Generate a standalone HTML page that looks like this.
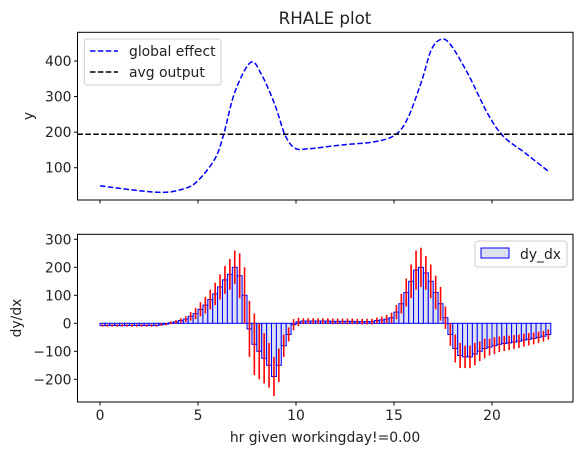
<!DOCTYPE html>
<html><head><meta charset="utf-8"><style>
body{margin:0;background:#fff}
svg text{font-family:"DejaVu Sans","Liberation Sans",sans-serif;fill:#222}
</style></head><body>
<svg id="c" width="583" height="455" xmlns="http://www.w3.org/2000/svg">
<rect width="583" height="455" fill="#fff"/>
<text x="325" y="24" font-size="16.7" text-anchor="middle">RHALE plot</text>
<g id="topG"></g><g id="botG"></g>
</svg>
<script>
const curveX=[0,2.98,4.34,5.02,5.87,6.3,6.89,7.69,8.25,8.93,9.44,9.95,10.6,12.3,14.0,15.05,15.7,16.4,16.9,17.4,17.9,18.8,19.8,20.6,21.7,22.9];
const curveY=[49,31,42,65,126,192,314,396,361,276,192,155,153,164,173,192,239,342,431,461,445,361,250,187,141,89];
const avgOutput=194;
const topTicks=[100,200,300,400];
const botTicks=[-200,-100,0,100,200,300];
const xTicks=[0,5,10,15,20];
const binStart=0,binWidth=0.25;
const dydx=[-8,-8,-8,-8,-8,-8,-8,-8,-8,-8,-8,-8,-5,-3,2,5,10,15,25,35,50,65,85,105,130,155,175,200,170,100,-20,-75,-100,-125,-150,-190,-150,-80,-40,-5,5,8,8,8,8,8,8,7,7,7,7,7,6,6,6,6,10,12,15,20,40,70,110,150,190,200,180,150,110,70,20,-40,-90,-115,-120,-120,-110,-100,-90,-85,-80,-75,-72,-70,-67,-64,-60,-57,-54,-50,-46,-40];
const stdv=[4,4,4,4,4,4,4,4,4,4,4,4,4,4,5,6,8,10,15,20,25,30,35,40,45,50,55,60,80,100,100,110,100,90,80,70,60,40,25,20,15,10,10,10,10,10,10,10,10,10,10,10,10,10,10,10,10,12,15,18,25,35,50,60,70,70,60,60,60,60,40,40,50,45,40,40,40,35,35,30,30,28,27,26,25,24,23,22,21,20,19,18];
const NS='http://www.w3.org/2000/svg';
function el(p,t,a,txt){const e=document.createElementNS(NS,t);for(const k in a)e.setAttribute(k,a[k]);if(txt!==undefined)e.textContent=txt;p.appendChild(e);return e;}
const X=v=>100+v*19.6;
const L=77.5,R=573;
const Yt=v=>203.3-v*0.3557;
const Yb=v=>323.3-v*0.28;
const FS=13.9;
const topG=document.getElementById('topG'),botG=document.getElementById('botG');
const P=curveX.map((x,i)=>[X(x),Yt(curveY[i])]);
let d='M'+P[0][0].toFixed(1)+','+P[0][1].toFixed(1);
for(let i=0;i<P.length-1;i++){const p0=P[Math.max(i-1,0)],p1=P[i],p2=P[i+1],p3=P[Math.min(i+2,P.length-1)];
const c1=[p1[0]+(p2[0]-p0[0])/6,p1[1]+(p2[1]-p0[1])/6],c2=[p2[0]-(p3[0]-p1[0])/6,p2[1]-(p3[1]-p1[1])/6];
d+='C'+c1[0].toFixed(1)+','+c1[1].toFixed(1)+' '+c2[0].toFixed(1)+','+c2[1].toFixed(1)+' '+p2[0].toFixed(1)+','+p2[1].toFixed(1);}
const gl=el(topG,'path',{d:d,fill:'none',stroke:'#00f','stroke-width':1.5,'stroke-dasharray':'5.5,2.4'});


const av=el(topG,'line',{x1:L,x2:R,y1:Yt(avgOutput),y2:Yt(avgOutput),stroke:'#000','stroke-width':1.5,'stroke-dasharray':'5.5,2.4'});


el(topG,'rect',{x:L,y:32.3,width:R-L,height:200-32.3,fill:'none',stroke:'#000','stroke-width':1});
topTicks.forEach(t=>{el(topG,'line',{x1:L-3.5,x2:L,y1:Yt(t),y2:Yt(t),stroke:'#000'});
const tl=el(topG,'text',{x:L-6,y:Yt(t)+5,'font-size':FS,'text-anchor':'end'},t);

});
xTicks.forEach(t=>{el(topG,'line',{x1:X(t),x2:X(t),y1:200,y2:203.5,stroke:'#000'});});
const yl=el(topG,'text',{x:0,y:0,'font-size':FS,'text-anchor':'middle',transform:'translate(33,116) rotate(-90)'},'y');


const lg=el(topG,'g',{});


el(lg,'rect',{x:84.3,y:39,width:136.7,height:46,rx:3,fill:'#fff','fill-opacity':0.85,stroke:'#ccc'});
el(lg,'line',{x1:90,x2:118,y1:51,y2:51,stroke:'#00f','stroke-width':1.5,'stroke-dasharray':'5.5,2.4'});
el(lg,'text',{x:129,y:56,'font-size':FS},'global effect');
el(lg,'line',{x1:90,x2:118,y1:72,y2:72,stroke:'#000','stroke-width':1.5,'stroke-dasharray':'5.5,2.4'});
el(lg,'text',{x:129,y:77,'font-size':FS},'avg output');
dydx.forEach((v,i)=>{const x0=binStart+i*binWidth;const y1=Yb(Math.max(v,0)),y2=Yb(Math.min(v,0));
const b=el(botG,'rect',{x:X(x0),y:y1,width:binWidth*19.6,height:Math.max(y2-y1,0.5),fill:'#dde0ee',stroke:'#00f','stroke-width':1});

});
dydx.forEach((v,i)=>{const xc=X(binStart+(i+0.5)*binWidth);
const e=el(botG,'line',{x1:xc,x2:xc,y1:Yb(v+stdv[i]),y2:Yb(v-stdv[i]),stroke:'#f00','stroke-width':1.6});

});
el(botG,'rect',{x:L,y:234.3,width:R-L,height:402-234.3,fill:'none',stroke:'#000','stroke-width':1});
botTicks.forEach(t=>{el(botG,'line',{x1:L-3.5,x2:L,y1:Yb(t),y2:Yb(t),stroke:'#000'});
const tl=el(botG,'text',{x:L-6,y:Yb(t)+5,'font-size':FS,'text-anchor':'end'},t<0?'\u2212'+(-t):t);

});
xTicks.forEach(t=>{el(botG,'line',{x1:X(t),x2:X(t),y1:402,y2:405.5,stroke:'#000'});
const tl=el(botG,'text',{x:X(t),y:420,'font-size':FS,'text-anchor':'middle'},t);

});
const by=el(botG,'text',{x:0,y:0,'font-size':FS,'text-anchor':'middle',transform:'translate(21,318) rotate(-90)'},'dy/dx');


const xt=el(botG,'text',{x:325,y:442,'font-size':FS,'text-anchor':'middle'},'hr given workingday!=0.00');


const lb=el(botG,'g',{});


el(lb,'rect',{x:475,y:241,width:92,height:26,rx:3,fill:'#fff','fill-opacity':0.85,stroke:'#ccc'});
el(lb,'rect',{x:481,y:248,width:28,height:10,fill:'#dde0ee',stroke:'#00f'});
el(lb,'text',{x:520,y:259,'font-size':FS},'dy_dx');
</script>
</body></html>
